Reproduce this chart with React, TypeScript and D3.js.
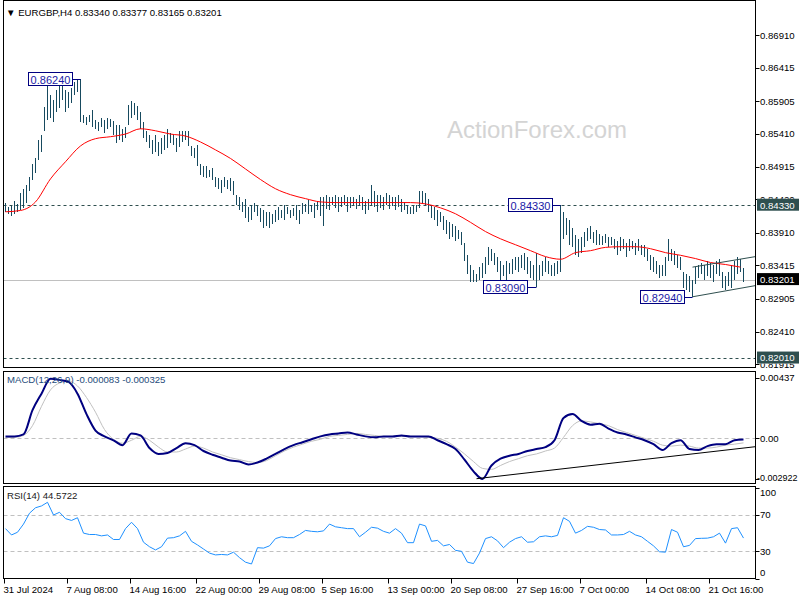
import React from 'react';
import * as d3 from 'd3';

// EURGBP H4 bars, one value per bar
const barHigh = [
  0.8437, 0.8431, 0.8432, 0.844, 0.8435, 0.8452, 0.8457, 0.8463, 0.8476, 0.8495,
  0.8505, 0.8532, 0.854, 0.8582, 0.862, 0.8601, 0.8593, 0.8608, 0.8616, 0.8619,
  0.8608, 0.8605, 0.8611, 0.862, 0.8623, 0.8624, 0.857, 0.8567, 0.857, 0.8578,
  0.8563, 0.856, 0.8566, 0.8563, 0.8566, 0.8564, 0.8561, 0.8555, 0.8555, 0.8548,
  0.8551, 0.8585, 0.8591, 0.8588, 0.8584, 0.8575, 0.856, 0.8545, 0.854, 0.8532,
  0.854, 0.8529, 0.8535, 0.854, 0.8548, 0.8543, 0.854, 0.8535, 0.8545, 0.8546,
  0.8545, 0.8545, 0.8523, 0.852, 0.8525, 0.8495, 0.8492, 0.8493, 0.8487, 0.849,
  0.8476, 0.8475, 0.8472, 0.8476, 0.8472, 0.8475, 0.847, 0.8449, 0.8446, 0.8438,
  0.8442, 0.8431, 0.8434, 0.8437, 0.8432, 0.8429, 0.8426, 0.8423, 0.8422, 0.842,
  0.8426, 0.8431, 0.8426, 0.8434, 0.8431, 0.8426, 0.8429, 0.8434, 0.8426, 0.8437,
  0.8435, 0.8441, 0.8434, 0.8437, 0.844, 0.8445, 0.8446, 0.8448, 0.8445, 0.8446,
  0.8448, 0.8446, 0.8445, 0.8448, 0.8446, 0.8445, 0.8446, 0.8443, 0.8448, 0.8445,
  0.844, 0.8443, 0.8463, 0.8454, 0.8448, 0.8449, 0.8445, 0.8451, 0.8448, 0.8446,
  0.8445, 0.8448, 0.8443, 0.8438, 0.8434, 0.8431, 0.8432, 0.8434, 0.8454, 0.8455,
  0.8452, 0.8442, 0.8434, 0.8431, 0.8426, 0.8422, 0.8416, 0.8411, 0.8408, 0.8404,
  0.8401, 0.8396, 0.8392, 0.8376, 0.8358, 0.8343, 0.8335, 0.8328, 0.8339, 0.8346,
  0.8355, 0.837, 0.8366, 0.8361, 0.8354, 0.8348, 0.8343, 0.8348, 0.8346, 0.8351,
  0.8355, 0.8354, 0.8358, 0.8361, 0.8354, 0.8348, 0.8343, 0.8361, 0.8343, 0.8348,
  0.8354, 0.8348, 0.8343, 0.8345, 0.8348, 0.8433, 0.8423, 0.8414, 0.8411, 0.8399,
  0.8388, 0.8381, 0.8384, 0.8393, 0.8399, 0.8401, 0.8393, 0.8396, 0.839, 0.8387,
  0.8389, 0.8384, 0.8385, 0.8381, 0.8378, 0.8384, 0.8381, 0.8376, 0.8381, 0.8379,
  0.8376, 0.8381, 0.8373, 0.8372, 0.8366, 0.8358, 0.8354, 0.8348, 0.8343, 0.8342,
  0.8354, 0.8381, 0.8366, 0.8363, 0.8358, 0.8354, 0.8331, 0.8328, 0.8325, 0.832,
  0.8339, 0.8343, 0.8346, 0.8343, 0.8348, 0.8345, 0.8342, 0.8348, 0.8351, 0.8332,
  0.8326, 0.8332, 0.8343, 0.8348, 0.8354, 0.8351, 0.83377,
];
const barLow = [
  0.8422, 0.8419, 0.8417, 0.842, 0.8422, 0.8426, 0.8429, 0.8437, 0.8454, 0.8472,
  0.8482, 0.8502, 0.8514, 0.8545, 0.8563, 0.8566, 0.856, 0.8575, 0.8581, 0.8593,
  0.8575, 0.8581, 0.8588, 0.8601, 0.8605, 0.856, 0.8558, 0.8555, 0.856, 0.8551,
  0.8548, 0.8545, 0.8552, 0.8543, 0.8548, 0.8552, 0.854, 0.8528, 0.8532, 0.8529,
  0.8535, 0.8555, 0.8566, 0.857, 0.8563, 0.8548, 0.8535, 0.8529, 0.852, 0.851,
  0.8514, 0.8507, 0.851, 0.8517, 0.852, 0.8528, 0.8525, 0.8514, 0.8522, 0.8529,
  0.8532, 0.8523, 0.8507, 0.8505, 0.8492, 0.8479, 0.8476, 0.8475, 0.8476, 0.8472,
  0.846, 0.8457, 0.8452, 0.846, 0.8457, 0.8454, 0.8448, 0.8434, 0.8426, 0.8422,
  0.8414, 0.8408, 0.8411, 0.8422, 0.8416, 0.8408, 0.8399, 0.8402, 0.8398, 0.8404,
  0.8408, 0.8411, 0.8414, 0.841, 0.8419, 0.8413, 0.8417, 0.8411, 0.8405, 0.8419,
  0.8423, 0.842, 0.8422, 0.8414, 0.8426, 0.8417, 0.8402, 0.8428, 0.8426, 0.8434,
  0.8429, 0.8423, 0.8431, 0.8434, 0.8423, 0.8429, 0.8434, 0.8428, 0.8432, 0.8426,
  0.8419, 0.8426, 0.8434, 0.8431, 0.8423, 0.8429, 0.8426, 0.8434, 0.8428, 0.8432,
  0.8426, 0.8431, 0.8423, 0.8426, 0.8419, 0.842, 0.8419, 0.8423, 0.8429, 0.8437,
  0.8432, 0.8422, 0.8414, 0.8411, 0.8401, 0.8408, 0.8396, 0.839, 0.8381, 0.8385,
  0.8378, 0.8381, 0.8373, 0.8348, 0.8328, 0.8317, 0.8316, 0.8316, 0.832, 0.8323,
  0.8328, 0.8342, 0.8348, 0.8343, 0.8332, 0.832, 0.8326, 0.832, 0.8329, 0.8328,
  0.8335, 0.8332, 0.8338, 0.8335, 0.8328, 0.8322, 0.832, 0.8309, 0.832, 0.8326,
  0.8332, 0.8328, 0.8325, 0.8326, 0.8329, 0.8332, 0.8381, 0.8388, 0.8373, 0.8369,
  0.8358, 0.8354, 0.8361, 0.8369, 0.8378, 0.8381, 0.8376, 0.8373, 0.8373, 0.8372,
  0.8376, 0.8369, 0.8373, 0.8366, 0.8358, 0.8363, 0.8366, 0.8354, 0.8363, 0.8366,
  0.8358, 0.8363, 0.8357, 0.8354, 0.8348, 0.8335, 0.8332, 0.8328, 0.8323, 0.8326,
  0.8326, 0.8348, 0.8348, 0.8343, 0.8338, 0.8335, 0.8308, 0.8305, 0.8302, 0.8294,
  0.8313, 0.8323, 0.8328, 0.832, 0.8326, 0.8323, 0.8317, 0.8328, 0.8326, 0.8308,
  0.8305, 0.8311, 0.8308, 0.832, 0.8328, 0.8331, 0.83165,
];

// red moving average, one reading every 5 bars
const maEvery = 5;
const maValues = [
  0.8423, 0.8425, 0.8438, 0.8473, 0.8499, 0.8523, 0.8534, 0.8537, 0.8541, 0.8549,
  0.8546, 0.8541, 0.8538, 0.8529, 0.8517, 0.8504, 0.8488, 0.8472, 0.8458, 0.8449,
  0.8443, 0.8438, 0.8437, 0.8437, 0.8437, 0.8437, 0.8437, 0.8437, 0.8435, 0.8429,
  0.842, 0.8407, 0.8393, 0.8382, 0.8373, 0.8364, 0.8355, 0.8351, 0.8361, 0.8364,
  0.8369, 0.837, 0.837, 0.8367, 0.8361, 0.8357, 0.8352, 0.8346, 0.8343, 0.8339,
];

// MACD(12,26,9), one reading every 3 bars
const macdEvery = 3;
const macdMain = [
  0.00014, 0.00014, 0.00028, 0.00202, 0.00321, 0.00428, 0.0042, 0.00405, 0.00321, 0.00174,
  0.00056, 0.00014, -0.00014, -0.00049, 0.00035, 0.00021, -0.0007, -0.00112, -0.00105, -0.0007,
  -0.00035, -0.00049, -0.00091, -0.00118, -0.00139, -0.0016, -0.00167, -0.00188, -0.00174, -0.00146,
  -0.00112, -0.00077, -0.00049, -0.00028, -0.00007, 0.00014, 0.00028, 0.00035, 0.00042, 0.00028,
  0.00014, 0.00007, 0.00014, 0.00014, 0.00021, 0.00014, 0.00014, 0.00014, -0.00014, -0.00042,
  -0.00077, -0.00153, -0.00237, -0.00292, -0.00195, -0.00146, -0.00125, -0.00112, -0.00091, -0.00077,
  -0.00063, -0.00014, 0.00146, 0.00174, 0.00125, 0.00098, 0.00105, 0.0007, 0.00042, 0.00028,
  0.00007, -0.00014, -0.00042, -0.00084, -0.00035, -0.00014, -0.00077, -0.00084, -0.00056, -0.00042,
  -0.00042, -0.00014, -0.000083,
];
const macdSignal = [
  0.00007, 0.00007, 0.00021, 0.00091, 0.0023, 0.00348, 0.00397, 0.00411, 0.00376, 0.00293,
  0.00188, 0.00063, -0.00007, -0.00035, -0.00014, 0.00014, -0.00014, -0.00063, -0.00098, -0.00098,
  -0.00077, -0.00056, -0.0007, -0.00098, -0.00118, -0.00139, -0.00153, -0.00167, -0.00174, -0.0016,
  -0.00125, -0.00091, -0.00063, -0.00042, -0.00021, -0.00007, 0.00014, 0.00021, 0.00028, 0.00035,
  0.00028, 0.00021, 0.00014, 0.00014, 0.00014, 0.00014, 0.00014, 0.00007, 0.0, -0.00021,
  -0.00063, -0.00112, -0.00167, -0.00216, -0.00223, -0.00195, -0.00167, -0.00146, -0.00125, -0.00112,
  -0.00091, -0.0007, 0.00007, 0.00091, 0.00125, 0.00118, 0.00105, 0.00091, 0.00063, 0.00042,
  0.00021, 0.0, -0.00021, -0.00049, -0.00056, -0.00049, -0.00056, -0.0007, -0.0007, -0.00063,
  -0.00049, -0.00042, -0.000325,
];

// RSI(14), one reading every 2 bars
const rsiEvery = 2;
const rsiValues = [
  55, 48, 51, 60, 72, 78, 80, 84, 70, 73,
  66, 64, 67, 50, 48.5, 48.5, 47, 48, 43, 43,
  55, 62, 55, 40, 35, 31.5, 35, 44.5, 45, 47,
  52, 41, 37, 32.5, 28, 26, 26.5, 26, 29, 23,
  18, 16, 34, 33.5, 36, 44, 46, 45, 45, 48.5,
  53, 52, 51.5, 52.5, 60, 57, 56, 55, 55, 46,
  51, 56.5, 55.5, 52, 50, 55, 50, 39.5, 39.5, 60,
  58, 41, 42, 36, 37.5, 31, 30, 18, 16.5, 28,
  44, 46, 41.5, 34, 40, 44, 46, 40, 40.5, 46,
  47, 46, 47.5, 67, 63, 50, 53, 57.5, 56.5, 54,
  53.5, 48, 48, 48.5, 52, 48, 46, 41, 36, 29.5,
  29, 54, 51, 35, 36.5, 44, 44.3, 44.5, 46, 50,
  39, 55, 56, 44.5722,
];

const priceTicks = [0.8691, 0.86415, 0.85905, 0.8541, 0.84915, 0.8442, 0.8391, 0.83415, 0.82905, 0.8241, 0.81915];
const macdTicks = [0.00437, 0, -0.002922];
const macdTickText = ['0.00437', '0.00', '-0.002922'];
const rsiTicks = [100, 70, 30, 0];
const timeLabels = [
  '31 Jul 2024', '7 Aug 08:00', '14 Aug 16:00', '22 Aug 00:00', '29 Aug 08:00', '5 Sep 16:00',
  '13 Sep 00:00', '20 Sep 08:00', '27 Sep 16:00', '7 Oct 00:00', '14 Oct 08:00', '21 Oct 16:00',
];
const timeLabelBars = [0, 21, 42, 64, 85, 106, 128, 149, 171, 192, 214, 235];

// marked swing points
const markBars = [25, 185, 177, 229];
const markPrices = [0.8624, 0.8433, 0.8309, 0.8294];
const markText = ['0.86240', '0.84330', '0.83090', '0.82940'];

const levelPrices = [0.8433, 0.8201];
const levelText = ['0.84330', '0.82010'];
const lastPrice = 0.83201;

// trend lines as [bar, value, bar, value]
const channelUpper = [229, 0.8339, 250, 0.8355];
const channelLower = [229, 0.8294, 250, 0.8311];
const macdTrend = [157, -0.0029, 250, -0.0006];

const FONT = '"Liberation Sans", Arial, sans-serif';
const BAR = '#174a5f';

export default function App() {
  const n = barHigh.length;
  const x = d3.scaleLinear().domain([0, n - 1]).range([5.5, 743.5]);
  const priceY = d3.scaleLinear().domain([0.81859, 0.87445]).range([368, 0]);
  const macdY = d3.scaleLinear().domain([-0.002922, 0.00437]).range([479, 377.5]);
  const rsiY = d3.scaleLinear().domain([0, 100]).range([578.5, 487.8]);

  const left = 3.5;
  const right = 755.5;
  const main = { top: 0.5, bottom: 367.5 };
  const macdP = { top: 371.5, bottom: 483.5 };
  const rsiP = { top: 486.5, bottom: 578.5 };

  const maPath = d3.line<number>().x((_, i) => x(i * maEvery)).y((d) => priceY(d)).curve(d3.curveMonotoneX)(maValues) || '';
  const macdPath = d3.line<number>().x((_, i) => x(i * macdEvery)).y((d) => macdY(d)).curve(d3.curveMonotoneX)(macdMain) || '';
  const sigPath = d3.line<number>().x((_, i) => x(i * macdEvery)).y((d) => macdY(d)).curve(d3.curveMonotoneX)(macdSignal) || '';
  const rsiPath = d3.line<number>().x((_, i) => x(i * rsiEvery)).y((d) => rsiY(d))(rsiValues) || '';

  const clampY = (y: number, a: number, b: number) => Math.max(a, Math.min(b, y));
  const txt = { fontFamily: FONT, fontSize: 9.6, fill: '#000' };

  // right-axis highlight boxes hide the tick labels beneath them, as in the terminal
  const boxSpans = [...levelPrices, lastPrice]
    .map((p) => [priceY(p) - 6.5, priceY(p) + 5.5])
    .sort((a, b) => a[0] - b[0]);
  const freeSpans: number[][] = [];
  let cursor = 0;
  boxSpans.forEach(([a, b]) => {
    freeSpans.push([cursor, a]);
    cursor = b;
  });
  freeSpans.push([cursor, 368]);

  return (
    <svg width={800} height={600} style={{ position: 'fixed', left: 0, top: 0, background: '#fff' }}>
      <defs>
        <clipPath id="cMain"><rect x={left} y={main.top} width={right - left} height={main.bottom - main.top} /></clipPath>
        <clipPath id="cMacd"><rect x={left} y={macdP.top} width={right - left} height={macdP.bottom - macdP.top} /></clipPath>
        <clipPath id="cRsi"><rect x={left} y={rsiP.top} width={right - left} height={rsiP.bottom - rsiP.top} /></clipPath>
        <clipPath id="cAxis">
          {freeSpans.map(([a, b], i) => (
            <rect key={'fs' + i} x={756} y={a} width={44} height={Math.max(0, b - a)} />
          ))}
        </clipPath>
      </defs>
      <rect x={0} y={0} width={800} height={600} fill="#fff" />

      {/* main panel */}
      <text x={537} y={138} textAnchor="middle" fontFamily={FONT} fontSize={24} fill="#d4d4d4">ActionForex.com</text>
      <g clipPath="url(#cMain)">
        {levelPrices.map((p, i) => (
          <line key={'lv' + i} x1={left} x2={right} y1={Math.round(priceY(p)) + 0.5} y2={Math.round(priceY(p)) + 0.5}
            stroke="#2f4f4f" strokeDasharray="3,3" />
        ))}
        <line x1={left} x2={right} y1={Math.round(priceY(lastPrice)) + 0.5} y2={Math.round(priceY(lastPrice)) + 0.5} stroke="#c0c0c0" />
        {barHigh.map((h, i) => {
          const y1 = Math.round(priceY(h));
          const y2 = Math.max(y1 + 1, Math.round(priceY(barLow[i])));
          return <line key={'b' + i} x1={x(i)} x2={x(i)} y1={y1} y2={y2} stroke={BAR} strokeWidth={1} />;
        })}
        <path d={maPath} fill="none" stroke="#ff0000" strokeWidth={1} />
        {[channelUpper, channelLower].map((c, i) => (
          <line key={'ch' + i} x1={x(c[0])} y1={priceY(c[1])} x2={x(c[2])} y2={priceY(c[3])} stroke="#2f4f4f" strokeWidth={1} />
        ))}
        {markBars.map((b, i) => {
          const px = x(b);
          const py = Math.round(priceY(markPrices[i])) + 0.5;
          const bx = Math.round(px - 9) + 0.5;
          return (
            <g key={'m' + i}>
              <line x1={bx} x2={px} y1={py} y2={py} stroke="#000080" />
              <rect x={bx - 44} y={py - 7} width={44} height={13} fill="#fff" stroke="#000080" />
              <text x={bx - 22} y={py + 4} textAnchor="middle" fontFamily={FONT} fontSize={11} fill="#1a1aa6">{markText[i]}</text>
            </g>
          );
        })}
      </g>

      {/* MACD panel */}
      <g clipPath="url(#cMacd)">
        <line x1={left} x2={right} y1={Math.round(macdY(0)) + 0.5} y2={Math.round(macdY(0)) + 0.5} stroke="#c0c0c0" strokeDasharray="4,3" />
        <path d={sigPath} fill="none" stroke="#c0c0c0" strokeWidth={1} />
        <path d={macdPath} fill="none" stroke="#000080" strokeWidth={2} />
        <line x1={x(macdTrend[0])} y1={macdY(macdTrend[1])} x2={x(macdTrend[2])} y2={macdY(macdTrend[3])} stroke="#000" strokeWidth={1} />
      </g>
      <text x={7} y={383} fontFamily={FONT} fontSize={9.6} fill="#1e4b7a">MACD(12,26,9) -0.000083 -0.000325</text>

      {/* RSI panel */}
      <g clipPath="url(#cRsi)">
        {[70, 30].map((v) => (
          <line key={'rl' + v} x1={left} x2={right} y1={Math.round(rsiY(v)) + 0.5} y2={Math.round(rsiY(v)) + 0.5} stroke="#c0c0c0" strokeDasharray="4,3" />
        ))}
        <path d={rsiPath} fill="none" stroke="#1e90ff" strokeWidth={1} />
      </g>
      <text x={7} y={499} fontFamily={FONT} fontSize={9.6} fill="#1a1a1a">RSI(14) 44.5722</text>

      {/* frames */}
      {[main, macdP, rsiP].map((p, i) => (
        <rect key={'f' + i} x={left} y={p.top} width={right - left} height={p.bottom - p.top} fill="none" stroke="#000" />
      ))}

      {/* right price axis */}
      {priceTicks.map((t) => {
        const y = priceY(t);
        return <line key={'ptk' + t} x1={right} x2={right + 4} y1={Math.round(y) + 0.5} y2={Math.round(y) + 0.5} stroke="#000" />;
      })}
      <g clipPath="url(#cAxis)">
        {priceTicks.map((t) => (
          <text key={'pt' + t} x={760} y={priceY(t)} dy="0.35em" {...txt}>{t.toFixed(5)}</text>
        ))}
      </g>
      {levelPrices.map((p, i) => (
        <g key={'lb' + i}>
          <rect x={757} y={priceY(p) - 6.5} width={42} height={12} fill="#2f4f4f" />
          <text x={760} y={priceY(p)} dy="0.35em" {...txt} fill="#fff">{levelText[i]}</text>
        </g>
      ))}
      <rect x={757} y={priceY(lastPrice) - 6.5} width={42} height={12} fill="#000" />
      <text x={760} y={priceY(lastPrice)} dy="0.35em" {...txt} fill="#fff">{lastPrice.toFixed(5)}</text>

      {/* right MACD axis */}
      {macdTicks.map((t, i) => {
        const y = macdY(t);
        const neg = t < 0;
        return (
          <g key={'mt' + i}>
            <line x1={right} x2={right + 4} y1={Math.round(y) + 0.5} y2={Math.round(y) + 0.5} stroke="#000" />
            <text x={neg ? 757 : 760} y={clampY(y, macdP.top + 6, macdP.bottom - 6)} dy="0.35em" {...txt}
              fontSize={neg ? 9 : 9.6}>{macdTickText[i]}</text>
          </g>
        );
      })}

      {/* right RSI axis */}
      {rsiTicks.map((t) => {
        const y = rsiY(t);
        return (
          <g key={'rt' + t}>
            <line x1={right} x2={right + 4} y1={Math.round(y) + 0.5} y2={Math.round(y) + 0.5} stroke="#000" />
            <text x={760} y={clampY(y, rsiP.top + 6.5, rsiP.bottom - 6)} dy="0.35em" {...txt}>{t}</text>
          </g>
        );
      })}

      {/* time axis */}
      {timeLabels.map((lab, i) => {
        const tx = Math.round(x(timeLabelBars[i]) - 1.5) + 0.5;
        return (
          <g key={'tl' + i}>
            <line x1={tx} x2={tx} y1={rsiP.bottom} y2={rsiP.bottom + 5} stroke="#000" />
            <text x={tx - 1} y={593} {...txt}>{lab}</text>
          </g>
        );
      })}

      {/* header */}
      <text x={6} y={16} {...txt}>▼ EURGBP,H4  0.83340 0.83377 0.83165 0.83201</text>
    </svg>
  );
}
